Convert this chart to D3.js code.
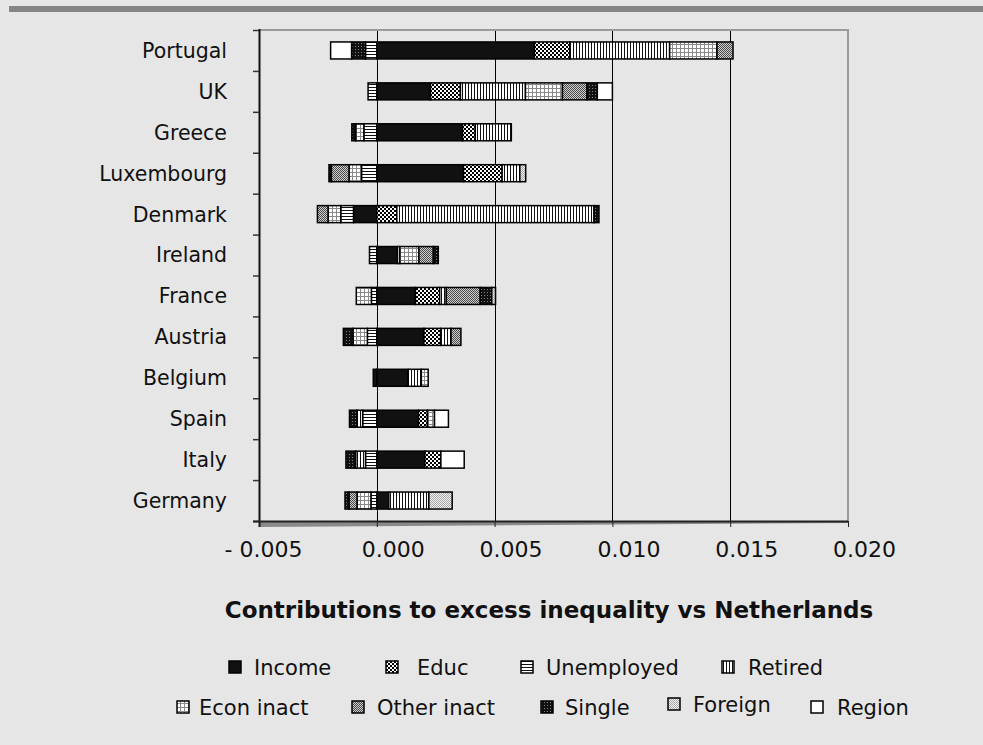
<!DOCTYPE html>
<html>
<head>
<meta charset="utf-8">
<script src="https://cdn.jsdelivr.net/npm/d3@7"></script>
<style>
  html, body { margin: 0; padding: 0; background: #e6e6e6; }
  svg { display: block; font-family: "DejaVu Sans", sans-serif; }
</style>
</head>
<body>
<svg id="chart" width="983" height="745"></svg>
<script>
// Countries, top to bottom
const categories = ["Portugal", "UK", "Greece", "Luxembourg", "Denmark", "Ireland",
                    "France", "Austria", "Belgium", "Spain", "Italy", "Germany"];

// Series, in stacking order
const seriesNames = ["Income", "Educ", "Unemployed", "Retired", "Econ inact",
                     "Other inact", "Single", "Foreign", "Region"];

// Contributions per country (same order as categories)
const income     = [0.00669, 0.00228, 0.00364, 0.00368, -0.00099, 0.00088, 0.00164, 0.00200, 0.00133, 0.00177, 0.00204, 0.00051];
const educ       = [0.00150, 0.00127, 0.00054, 0.00164, 0.00085, 0.00000, 0.00103, 0.00071, 0.00000, 0.00038, 0.00068, 0.00000];
const unemployed = [-0.00048, -0.00037, -0.00055, -0.00065, -0.00054, -0.00031, -0.00023, -0.00040, 0.00000, -0.00060, -0.00048, -0.00025];
const retired    = [0.00424, 0.00276, 0.00153, 0.00075, 0.00837, 0.00010, 0.00028, 0.00044, 0.00056, -0.00025, -0.00042, 0.00170];
const econInact  = [0.00201, 0.00157, -0.00035, -0.00053, -0.00054, 0.00081, -0.00064, -0.00061, 0.00029, 0.00030, 0.00000, -0.00059];
const otherInact = [0.00068, 0.00104, 0.00000, -0.00075, -0.00045, 0.00061, 0.00144, 0.00042, 0.00000, 0.00000, 0.00000, -0.00034];
const single     = [-0.00059, 0.00044, -0.00016, -0.00010, 0.00021, 0.00021, 0.00049, -0.00041, -0.00015, -0.00031, -0.00041, -0.00017];
const foreign    = [0.00000, 0.00000, 0.00000, 0.00025, 0.00000, 0.00000, 0.00016, 0.00000, 0.00000, 0.00000, 0.00000, 0.00099];
const region     = [-0.00089, 0.00064, 0.00000, 0.00000, 0.00000, 0.00000, 0.00000, 0.00000, 0.00000, 0.00059, 0.00099, 0.00000];

const seriesValues = [income, educ, unemployed, retired, econInact, otherInact, single, foreign, region];

// Axis ticks
const xTicks = [-0.005, 0.000, 0.005, 0.010, 0.015, 0.020];
const xTitle = "Contributions to excess inequality vs Netherlands";

// ---- layout ----
const plot = { left: 259, right: 848, top: 30, bottom: 521 };

const svg = d3.select("#chart");
const defs = svg.append("defs");

// Background and the grey rule along the top
svg.append("rect").attr("width", 983).attr("height", 745).attr("fill", "#e6e6e6");
svg.append("rect").attr("x", 9).attr("y", 6).attr("width", 974).attr("height", 6).attr("fill", "#858585");

// ---- fill patterns ----
function pattern(id, w, h, bg, cells) {
  const p = defs.append("pattern").attr("id", id)
    .attr("patternUnits", "userSpaceOnUse").attr("width", w).attr("height", h);
  p.append("rect").attr("width", w).attr("height", h).attr("fill", bg);
  cells.forEach(c => p.append("rect").attr("x", c[0]).attr("y", c[1])
    .attr("width", c[2]).attr("height", c[3]).attr("fill", c[4]));
}
pattern("p-educ", 4, 4, "#ffffff", [[0, 0, 2, 2, "#000"], [2, 2, 2, 2, "#000"]]);
pattern("p-unemp", 3, 3, "#ffffff", [[0, 0, 3, 1, "#111"]]);
pattern("p-ret", 3, 3, "#ffffff", [[0, 0, 1, 3, "#111"]]);
pattern("p-econ", 4, 4, "#ffffff", [[0, 0, 4, 1, "#8a8a8a"], [0, 0, 1, 4, "#8a8a8a"]]);
pattern("p-other", 2, 2, "#cfcfcf", [[0, 0, 1, 1, "#4a4a4a"], [1, 1, 1, 1, "#4a4a4a"]]);
pattern("p-single", 3, 3, "#111111", [[1, 1, 1, 1, "#808080"]]);
pattern("p-foreign", 2, 2, "#f2f2f2", [[0, 0, 1, 1, "#a8a8a8"], [1, 1, 1, 1, "#a8a8a8"]]);

const fills = {
  "Income": "#111111",
  "Educ": "url(#p-educ)",
  "Unemployed": "url(#p-unemp)",
  "Retired": "url(#p-ret)",
  "Econ inact": "url(#p-econ)",
  "Other inact": "url(#p-other)",
  "Single": "url(#p-single)",
  "Foreign": "url(#p-foreign)",
  "Region": "#ffffff"
};

// ---- scales ----
const x = d3.scaleLinear().domain([-0.005, 0.020]).range([plot.left, plot.right]);
const y = d3.scaleBand().domain(categories).range([plot.top, plot.bottom])
  .paddingInner(0.5845).paddingOuter(0.5845 / 2);

// ---- stacked data (positives to the right, negatives to the left) ----
const rows = categories.map((c, i) => {
  const r = { country: c };
  seriesNames.forEach((s, k) => { r[s] = seriesValues[k][i]; });
  return r;
});
const stacked = d3.stack().keys(seriesNames).offset(d3.stackOffsetDiverging)(rows);

// ---- plot frame ----
// Floor shading under the category axis
svg.append("polygon")
  .attr("points", [[plot.left, plot.bottom], [plot.right, plot.bottom],
                   [plot.right, plot.bottom + 2], [plot.left, plot.bottom + 6]].join(" "))
  .attr("fill", "#8a8a8a");

// Vertical gridlines
svg.append("g").selectAll("line")
  .data(xTicks.filter(t => t >= 0 && t < 0.020))
  .join("line")
  .attr("x1", d => Math.round(x(d)) + 0.5).attr("x2", d => Math.round(x(d)) + 0.5)
  .attr("y1", plot.top).attr("y2", plot.bottom)
  .attr("stroke", "#000").attr("stroke-width", 1);

// Top and right border of the plot area
svg.append("path")
  .attr("d", `M${plot.left},${plot.top}H${plot.right}V${plot.bottom}`)
  .attr("fill", "none").attr("stroke", "#9a9a9a").attr("stroke-width", 2);

// ---- bars ----
const layers = svg.append("g").selectAll("g")
  .data(stacked)
  .join("g")
  .attr("fill", d => fills[d.key]);

layers.selectAll("rect")
  .data(d => d.filter(s => s[1] - s[0] !== 0))
  .join("rect")
  .attr("x", d => x(d[0]))
  .attr("y", d => y(d.data.country))
  .attr("width", d => x(d[1]) - x(d[0]))
  .attr("height", y.bandwidth())
  .attr("stroke", "#000")
  .attr("stroke-width", 1.5);

// ---- axes ----
// Category axis: tick marks between countries
const yTicks = d3.scaleLinear().domain([0, categories.length]).range([plot.top, plot.bottom]);
const yAxis = svg.append("g")
  .attr("transform", `translate(${plot.left},0)`)
  .call(d3.axisLeft(yTicks).tickValues(d3.range(0, categories.length + 1))
    .tickFormat("").tickSizeInner(6).tickSizeOuter(0));
yAxis.select(".domain").attr("stroke", "#111").attr("stroke-width", 2)
  .attr("d", `M0.5,${plot.top - 1}V${plot.bottom + 6}`);
yAxis.selectAll(".tick line").attr("stroke", "#333").attr("stroke-width", 1.5);

// Country labels
svg.append("g").selectAll("text")
  .data(categories)
  .join("text")
  .attr("x", 227)
  .attr("y", d => y(d) + y.bandwidth() / 2)
  .attr("dy", "0.36em")
  .attr("text-anchor", "end")
  .attr("font-size", 20.5)
  .attr("fill", "#111")
  .text(d => d);

// Value axis
const fmt = d3.format(".3f");
const xAxis = svg.append("g")
  .attr("transform", `translate(0,${plot.bottom})`)
  .call(d3.axisBottom(x).tickValues(xTicks)
    .tickFormat(v => v < 0 ? "- " + fmt(-v) : fmt(v))
    .tickSizeInner(6).tickSizeOuter(0).tickPadding(14));
xAxis.select(".domain").attr("stroke", "#222").attr("stroke-width", 2)
  .attr("d", `M${plot.left - 6},0.5H${plot.right}`);
xAxis.selectAll(".tick line").attr("stroke", "#222").attr("stroke-width", 1);
xAxis.selectAll(".tick text")
  .attr("font-family", "DejaVu Sans, sans-serif")
  .attr("font-size", 22)
  .attr("fill", "#111")
  .attr("dx", d => d < 0 ? 4 : 16);

// Axis title
svg.append("text")
  .attr("x", 549).attr("y", 610).attr("dy", "0.36em")
  .attr("text-anchor", "middle")
  .attr("font-size", 23).attr("font-weight", "bold").attr("fill", "#111")
  .text(xTitle);

// ---- legend ----
const legendLayout = [
  { row: 0, sx: 229, tx: 254, dy: 0 },
  { row: 0, sx: 386, tx: 417, dy: 0 },
  { row: 0, sx: 521, tx: 546, dy: 0 },
  { row: 0, sx: 722, tx: 748, dy: 0 },
  { row: 1, sx: 177, tx: 199, dy: 0 },
  { row: 1, sx: 352, tx: 377, dy: 0 },
  { row: 1, sx: 541, tx: 565, dy: 0 },
  { row: 1, sx: 668, tx: 693, dy: -3 },
  { row: 1, sx: 811, tx: 837, dy: 0 }
];
const rowY = [667, 707];

const legend = svg.append("g").selectAll("g")
  .data(seriesNames)
  .join("g")
  .attr("transform", (d, i) => `translate(0,${rowY[legendLayout[i].row] + legendLayout[i].dy})`);

legend.append("rect")
  .attr("x", (d, i) => legendLayout[i].sx)
  .attr("y", -6)
  .attr("width", 12).attr("height", 12)
  .attr("fill", d => fills[d])
  .attr("stroke", "#000").attr("stroke-width", 1.5);

legend.append("text")
  .attr("x", (d, i) => legendLayout[i].tx)
  .attr("dy", "0.36em")
  .attr("font-size", 21)
  .attr("fill", "#111")
  .text(d => d);
</script>
</body>
</html>
